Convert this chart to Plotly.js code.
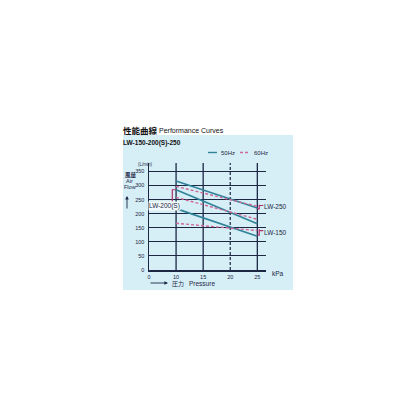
<!DOCTYPE html>
<html>
<head>
<meta charset="utf-8">
<script src="https://cdn.plot.ly/plotly-3.0.1.min.js"></script>
<style>
  body { margin: 0; background: #fff; }
  #myChart { width: 416px; height: 416px; }
</style>
</head>
<body>
<div id="myChart"></div>
<script>
// values (kPa -> L/min)
var pressure = [10, 15, 20, 25];
var lw250_50 = [316, 284, 252, 220];
var lw250_60 = [297, 273, 250, 226];
var lw200_50 = [285, 244, 204, 164];
var lw200_60 = [258, 232, 206, 180];
var lw150_50 = [218, 186, 153, 120];
var lw150_60 = [166, 158, 150, 140];

// the 0 tick sits where 5 kPa would be (axis is broken between 0 and 10)
var xTicks = [5, 10, 15, 20, 25];
var xTickText = ['0', '10', '15', '20', '25'];
var yTicks = [0, 50, 100, 150, 200, 250, 300, 350];
var solidGrid = [10, 15, 25];
var dashedGrid = [20];

var blue = '#2f8399';
var pink = '#cc6a9a';
var bracket = '#b3306e';
var navy = '#1c2744';
var panel = '#d6eef6';

function curve(y, hz) {
  return {
    x: pressure,
    y: y,
    mode: 'lines',
    hoverinfo: 'skip',
    line: hz == 50 ? {color: blue, width: 1.6} : {color: pink, width: 1.4, dash: '3px,2px'}
  }
}

var data = [
  curve(lw250_50, 50), curve(lw250_60, 60),
  curve(lw200_50, 50), curve(lw200_60, 60),
  curve(lw150_50, 50), curve(lw150_60, 60)
]

// paper coords: x = (px - 149) / 117, y = (270 - py) / 107
function px(v) { return (v - 149) / 117 }
function py(v) { return (270 - v) / 107 }

var shapes = [
  // light blue panel behind the whole figure
  {type: 'rect', xref: 'paper', yref: 'paper', x0: px(123), x1: px(293), y0: py(290), y1: py(135),
   fillcolor: panel, line: {width: 0}, layer: 'below'}
]
solidGrid.forEach(function (v) {
  shapes.push({type: 'line', xref: 'x', yref: 'paper', x0: v, x1: v, y0: 0, y1: 1,
               line: {color: navy, width: 1.3}, layer: 'below'})
})
dashedGrid.forEach(function (v) {
  shapes.push({type: 'line', xref: 'x', yref: 'paper', x0: v, x1: v, y0: 0, y1: 1,
               line: {color: navy, width: 1.2, dash: '3px,2px'}, layer: 'below'})
})
// model brackets
shapes.push(
  {type: 'path', xref: 'x', yref: 'y', path: 'M 10 285 L 9.3 285 L 9.3 243', line: {color: bracket, width: 1.2}},
  {type: 'path', xref: 'x', yref: 'y', path: 'M 25 217 L 25.35 217 L 25.35 232 M 25.35 229 L 26.1 229', line: {color: bracket, width: 1.2}},
  {type: 'path', xref: 'x', yref: 'y', path: 'M 25 124 L 25.35 124 L 25.35 145 M 25.35 140 L 26.1 140', line: {color: bracket, width: 1.2}}
)
// legend swatches
shapes.push(
  {type: 'line', xref: 'paper', yref: 'paper', x0: px(208), x1: px(217), y0: py(152.5), y1: py(152.5),
   line: {color: blue, width: 1.4}},
  {type: 'line', xref: 'paper', yref: 'paper', x0: px(240), x1: px(250), y0: py(152.5), y1: py(152.5),
   line: {color: pink, width: 1.4, dash: '3px,2px'}}
)

function note(text, x, y, family, size, opts) {
  var a = {text: text, x: px(x), y: py(y), xref: 'paper', yref: 'paper', showarrow: false,
           xanchor: 'left', yanchor: 'middle', font: {family: family, size: size, color: navy}}
  for (var k in opts) a[k] = opts[k]
  return a
}
function arrow(x0, y0, x1, y1) {
  return {text: '', x: px(x1), y: py(y1), ax: px(x0), ay: py(y0), xref: 'paper', yref: 'paper',
          axref: 'paper', ayref: 'paper', showarrow: true, arrowhead: 2, arrowsize: 0.8,
          arrowwidth: 0.9, arrowcolor: navy}
}
var sans = 'Liberation Sans, Arial, sans-serif';
var cjk = 'Noto Sans CJK JP';

var annotations = [
  note('<b>性能曲線</b>', 121, 130, cjk, 8.5, {font: {family: cjk, size: 8.5, color: '#111'}}),
  note('Performance Curves', 157, 130, sans, 7, {font: {family: sans, size: 7, color: '#111'}}),
  note('<b>LW-150-200(S)-250</b>', 121, 142.5, sans, 6.5, {font: {family: sans, size: 6.5, color: '#111'}}),
  note('50Hz', 219, 152.5, sans, 6),
  note('60Hz', 252, 152.5, sans, 6),
  note('(L/min)', 136, 164.5, sans, 4.5),
  note('<b>風量</b>', 123, 174.5, cjk, 5.5),
  note('Air', 124, 181, sans, 5.5),
  note('Flow', 122, 187, sans, 5.5),
  arrow(127, 210, 127, 196),
  note('kPa', 270, 273.5, sans, 6.5),
  arrow(149, 283, 168, 283),
  note('圧力', 170, 283, cjk, 6),
  note('Pressure', 187, 283, sans, 6.5),
  note('LW-200(S)', 148, 206, sans, 6.5, {bgcolor: '#f2fafc', borderpad: 0}),
  note('LW-250', 262, 206.5, sans, 6.5),
  note('LW-150', 262, 232, sans, 6.5)
]

var layout = {
  width: 416,
  height: 416,
  paper_bgcolor: '#ffffff',
  plot_bgcolor: 'rgba(0,0,0,0)',
  margin: {l: 149, r: 150, t: 163, b: 146},
  showlegend: false,
  xaxis: {
    range: [5, 26.6],
    tickvals: xTicks,
    ticktext: xTickText,
    showgrid: false,
    zeroline: false,
    showline: true,
    linecolor: navy,
    linewidth: 1.5,
    ticks: '',
    ticklabelstandoff: 1,
    tickfont: {family: sans, size: 5.5, color: navy}
  },
  yaxis: {
    range: [0, 380],
    tickvals: yTicks,
    showgrid: true,
    gridcolor: navy,
    gridwidth: 1,
    zeroline: false,
    showline: true,
    linecolor: navy,
    linewidth: 1.5,
    ticks: '',
    ticklabelstandoff: 2,
    tickfont: {family: sans, size: 5.5, color: navy}
  },
  shapes: shapes,
  annotations: annotations
}

Plotly.newPlot('myChart', data, layout, {displayModeBar: false, staticPlot: true});
</script>
</body>
</html>
